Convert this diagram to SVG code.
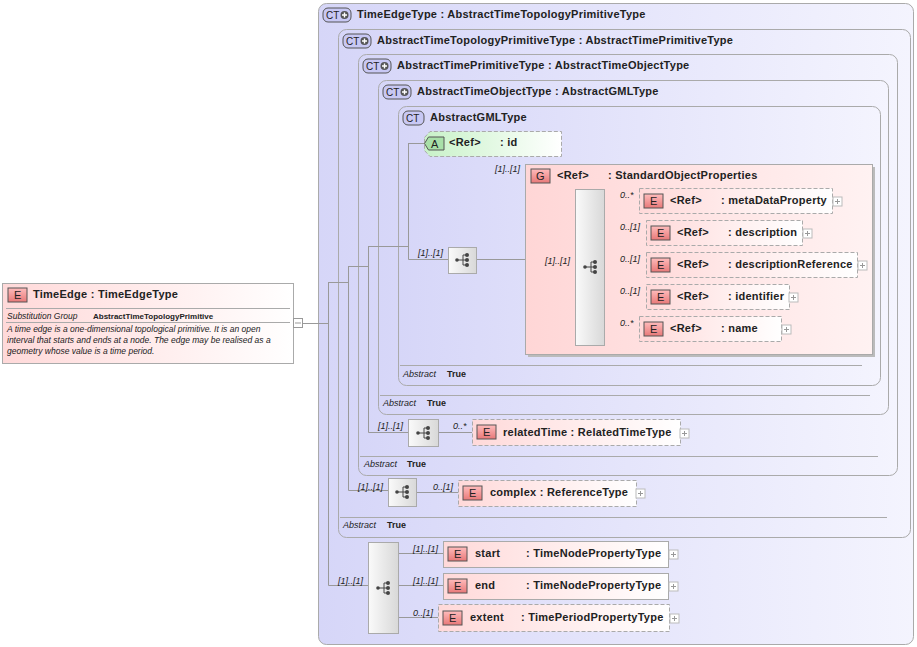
<svg xmlns="http://www.w3.org/2000/svg" width="917" height="647" viewBox="0 0 917 647">
<defs>
<linearGradient id="ct" x1="0" y1="0" x2="1" y2="0"><stop offset="0" stop-color="#d6d6f8"/><stop offset="1" stop-color="#f4f4fe"/></linearGradient>
<linearGradient id="el" x1="0" y1="0" x2="1" y2="0"><stop offset="0" stop-color="#ffd9d9"/><stop offset="1" stop-color="#ffffff"/></linearGradient>
<linearGradient id="gr" x1="0" y1="0" x2="1" y2="0"><stop offset="0" stop-color="#ffd6d6"/><stop offset="1" stop-color="#fff2f2"/></linearGradient>
<linearGradient id="at" x1="0" y1="0" x2="1" y2="0"><stop offset="0" stop-color="#c8f2c8"/><stop offset="1" stop-color="#ffffff"/></linearGradient>
<linearGradient id="sq" x1="0" y1="0" x2="1" y2="0"><stop offset="0" stop-color="#fafafa"/><stop offset="1" stop-color="#d8d8d8"/></linearGradient>
<linearGradient id="badge" x1="0" y1="0" x2="0" y2="1"><stop offset="0" stop-color="#ffbcbc"/><stop offset="1" stop-color="#e87878"/></linearGradient>
<g id="seqicon"><line x1="-6" y1="0" x2="0" y2="0" stroke="#444"/><line x1="0" y1="-5" x2="0" y2="5" stroke="#444"/><line x1="0" y1="-5" x2="4" y2="-5" stroke="#444"/><line x1="0" y1="5" x2="4" y2="5" stroke="#444"/><line x1="0" y1="0" x2="4" y2="0" stroke="#444"/><circle cx="-6" cy="0" r="1.8" fill="#444"/><circle cx="4" cy="-5" r="2" fill="#444"/><circle cx="4" cy="0" r="2" fill="#444"/><circle cx="4" cy="5" r="2" fill="#444"/></g>
<g id="ctplus"><rect x="0" y="0" width="28" height="14" rx="5" fill="#c8c8f4" stroke="#555"/><text x="3" y="11" class="bt" style="font-size:10px">CT</text><circle cx="21.5" cy="7" r="4" fill="#555"/><path d="M19 7h5M21.5 4.5v5" stroke="#fff" stroke-width="1.4"/></g>
<g id="eb"><rect x="0" y="0" width="19" height="14" fill="url(#badge)" stroke="#555"/><text x="6" y="11" class="bt">E</text></g>
<g id="plus"><rect x="0" y="0" width="9" height="9" fill="#fff" stroke="#bbb"/><path d="M2 4.5h5M4.5 2v5" stroke="#999"/></g>
</defs>
<style>
text{font-family:"Liberation Sans",Arial,sans-serif;fill:#222}
.t{font-size:11px;font-weight:bold;letter-spacing:0.25px}
.bt{font-size:11px}
.m{font-size:9px;font-style:italic}
.ab{font-size:9px;font-style:italic}
.tr{font-size:9px;font-weight:bold}
.ctbox{fill:url(#ct);stroke:#aaa;stroke-width:1}
.sep{stroke:#aaa}
.con{stroke:#999;fill:none}
.elS{fill:url(#el);stroke:#aaa}
.elD{fill:url(#el);stroke:#aaa;stroke-dasharray:4 2}
.sqb{fill:url(#sq);stroke:#aaa}
</style>

<g id="ct-TimeEdgeType">
<rect x="318.5" y="3.5" width="595" height="641" rx="8" class="ctbox"/>
<use href="#ctplus" x="323" y="8"/><text x="357" y="18" class="t">TimeEdgeType : AbstractTimeTopologyPrimitiveType</text>
</g>
<g id="ct-AbstractTimeTopologyPrimitiveType">
<rect x="338.5" y="29.5" width="572" height="508" rx="8" class="ctbox"/>
<use href="#ctplus" x="343" y="34"/><text x="377" y="44" class="t">AbstractTimeTopologyPrimitiveType : AbstractTimePrimitiveType</text>
<line x1="340" y1="517.5" x2="887" y2="517.5" class="sep"/>
<text x="343" y="528" class="ab">Abstract</text><text x="387" y="528" class="tr">True</text>
</g>
<g id="ct-AbstractTimePrimitiveType">
<rect x="358.5" y="54.5" width="539" height="421" rx="8" class="ctbox"/>
<use href="#ctplus" x="363" y="59"/><text x="397" y="69" class="t">AbstractTimePrimitiveType : AbstractTimeObjectType</text>
<line x1="360" y1="456.5" x2="878" y2="456.5" class="sep"/>
<text x="364" y="467" class="ab">Abstract</text><text x="407" y="467" class="tr">True</text>
</g>
<g id="ct-AbstractTimeObjectType">
<rect x="378.5" y="80.5" width="510" height="334" rx="8" class="ctbox"/>
<use href="#ctplus" x="383" y="85"/><text x="417" y="95" class="t">AbstractTimeObjectType : AbstractGMLType</text>
<line x1="380" y1="395.5" x2="870" y2="395.5" class="sep"/>
<text x="383" y="406" class="ab">Abstract</text><text x="427" y="406" class="tr">True</text>
</g>
<g id="ct-AbstractGMLType">
<rect x="398.5" y="106.5" width="482" height="279" rx="8" class="ctbox"/>
<rect x="403" y="111" width="21" height="14" rx="5" fill="#c8c8f4" stroke="#555"/><text x="406" y="122" class="bt" style="font-size:10px">CT</text>
<text x="430" y="121" class="t">AbstractGMLType</text>
<line x1="400" y1="365.5" x2="862" y2="365.5" class="sep"/>
<text x="403" y="377" class="ab">Abstract</text><text x="447" y="377" class="tr">True</text>
</g>

<g id="connectors">
<line x1="303" y1="323.5" x2="328" y2="323.5" class="con"/>
<path d="M328.5 282v303.5H368" class="con"/>
<path d="M328 282.5h20.5M348.5 266v224.5H388" class="con"/>
<path d="M348 266.5h20.5M368.5 246v186.5H408" class="con"/>
<path d="M368 246.5h40.5M408.5 143v116.5H448M408 143.5h16" class="con"/>
<line x1="476" y1="259.5" x2="525" y2="259.5" class="con"/>
<line x1="525" y1="267.5" x2="575" y2="267.5" class="con"/>
<path d="M604 200.5h35M604 232.5h42M604 264.5h42M604 296.5h42M604 328.5h35" class="con"/>
<line x1="438" y1="432.5" x2="472" y2="432.5" class="con"/>
<line x1="416" y1="492.5" x2="458" y2="492.5" class="con"/>
<path d="M398 553.5h45M398 585.5h45M398 617.5h40" class="con"/>
</g>

<g id="TimeEdge">
<rect x="2.5" y="283.5" width="291" height="80" fill="url(#el)" stroke="#aaa"/>
<use href="#eb" x="8" y="288"/><text x="33" y="298" class="t">TimeEdge : TimeEdgeType</text>
<line x1="6" y1="308.5" x2="290" y2="308.5" stroke="#aaa"/>
<text x="7" y="319" class="m" style="font-size:8.5px">Substitution Group</text><text x="93" y="319" class="tr" style="font-size:8px">AbstractTimeTopologyPrimitive</text>
<line x1="6" y1="322.5" x2="290" y2="322.5" stroke="#aaa"/>
<text class="m" style="font-size:8.5px"><tspan x="7" y="332">A time edge is a one-dimensional topological primitive. It is an open</tspan><tspan x="7" y="343">interval that starts and ends at a node. The edge may be realised as a</tspan><tspan x="7" y="354">geometry whose value is a time period.</tspan></text>
<rect x="293.5" y="318.5" width="9" height="9" fill="#fff" stroke="#999"/><line x1="295" y1="323" x2="301" y2="323" stroke="#999"/>
</g>

<g id="attr-id">
<path d="M424.5 137.5L430 131.5H561.5V156.5H430L424.5 150.5Z" fill="url(#at)" stroke="#aaa" stroke-dasharray="4 2"/>
<path d="M424.5 143.5l4-6.5h15.5v13h-15.5z" fill="#a8e0a8" stroke="#555"/>
<text x="431" y="148" class="bt">A</text>
<text x="449" y="146" class="t">&lt;Ref&gt;</text><text x="500" y="146" class="t">: id</text>
</g>

<g id="seq-gml">
<rect x="448.5" y="247.5" width="28" height="26" class="sqb"/><use href="#seqicon" x="463" y="260"/>
<text x="418" y="256" class="m">[1]..[1]</text>
</g>

<g id="StandardObjectProperties">
<rect x="528" y="167" width="347" height="190" fill="#bbb"/>
<rect x="525.5" y="164.5" width="347" height="190" fill="url(#gr)" stroke="#aaa"/>
<text x="495" y="172" class="m">[1]..[1]</text>
<rect x="531" y="169" width="19" height="14" fill="url(#badge)" stroke="#555"/><text x="536" y="180" class="bt">G</text>
<text x="557" y="179" class="t">&lt;Ref&gt;</text><text x="608" y="179" class="t">: StandardObjectProperties</text>
<rect x="575.5" y="189.5" width="29" height="156" class="sqb"/><use href="#seqicon" x="591" y="267"/>
<text x="545" y="264" class="m">[1]..[1]</text>
</g>

<g id="metaDataProperty">
<rect x="639.5" y="188.5" width="193" height="25" class="elD"/><use href="#eb" x="644" y="194"/>
<text x="670" y="204" class="t">&lt;Ref&gt;</text><text x="721" y="204" class="t">: metaDataProperty</text>
<use href="#plus" x="833" y="197"/><text x="620" y="198" class="m">0..*</text>
</g>
<g id="description">
<rect x="646.5" y="220.5" width="156" height="25" class="elD"/><use href="#eb" x="651" y="226"/>
<text x="677" y="236" class="t">&lt;Ref&gt;</text><text x="728" y="236" class="t">: description</text>
<use href="#plus" x="803" y="229"/><text x="620" y="230" class="m">0..[1]</text>
</g>
<g id="descriptionReference">
<rect x="646.5" y="252.5" width="211" height="25" class="elD"/><use href="#eb" x="651" y="258"/>
<text x="677" y="268" class="t">&lt;Ref&gt;</text><text x="728" y="268" class="t">: descriptionReference</text>
<use href="#plus" x="858" y="261"/><text x="620" y="262" class="m">0..[1]</text>
</g>
<g id="identifier">
<rect x="646.5" y="284.5" width="143" height="25" class="elD"/><use href="#eb" x="651" y="290"/>
<text x="677" y="300" class="t">&lt;Ref&gt;</text><text x="728" y="300" class="t">: identifier</text>
<use href="#plus" x="789" y="293"/><text x="620" y="294" class="m">0..[1]</text>
</g>
<g id="name">
<rect x="639.5" y="316.5" width="142" height="25" class="elD"/><use href="#eb" x="644" y="322"/>
<text x="670" y="332" class="t">&lt;Ref&gt;</text><text x="721" y="332" class="t">: name</text>
<use href="#plus" x="782" y="325"/><text x="620" y="326" class="m">0..*</text>
</g>

<g id="relatedTime">
<rect x="408.5" y="419.5" width="30" height="27" class="sqb"/><use href="#seqicon" x="424" y="433"/>
<text x="378" y="429" class="m">[1]..[1]</text><text x="453" y="429" class="m">0..*</text>
<rect x="472.5" y="419.5" width="208" height="26" class="elD"/><use href="#eb" x="477" y="425"/>
<text x="503" y="436" class="t">relatedTime : RelatedTimeType</text><use href="#plus" x="680" y="429"/>
</g>
<g id="complex">
<rect x="388.5" y="478.5" width="28" height="28" class="sqb"/><use href="#seqicon" x="403" y="492"/>
<text x="358" y="490" class="m">[1]..[1]</text><text x="433" y="490" class="m">0..[1]</text>
<rect x="458.5" y="480.5" width="178" height="26" class="elD"/><use href="#eb" x="463" y="486"/>
<text x="490" y="496" class="t">complex : ReferenceType</text><use href="#plus" x="636" y="489"/>
</g>
<g id="seq-main">
<rect x="368.5" y="542.5" width="30" height="91" class="sqb"/><use href="#seqicon" x="384" y="588"/>
<text x="338" y="584" class="m">[1]..[1]</text>
</g>
<g id="start">
<rect x="443.5" y="541.5" width="225" height="26" class="elS"/><use href="#eb" x="448" y="547"/>
<text x="475" y="557" class="t">start</text><text x="526" y="557" class="t">: TimeNodePropertyType</text>
<use href="#plus" x="669" y="550"/><text x="413" y="552" class="m">[1]..[1]</text>
</g>
<g id="end">
<rect x="443.5" y="573.5" width="225" height="26" class="elS"/><use href="#eb" x="448" y="579"/>
<text x="475" y="589" class="t">end</text><text x="526" y="589" class="t">: TimeNodePropertyType</text>
<use href="#plus" x="669" y="582"/><text x="413" y="584" class="m">[1]..[1]</text>
</g>
<g id="extent">
<rect x="438.5" y="604.5" width="231" height="27" class="elD"/><use href="#eb" x="443" y="611"/>
<text x="470" y="621" class="t">extent</text><text x="521" y="621" class="t">: TimePeriodPropertyType</text>
<use href="#plus" x="670" y="614"/><text x="413" y="616" class="m">0..[1]</text>
</g>
</svg>
